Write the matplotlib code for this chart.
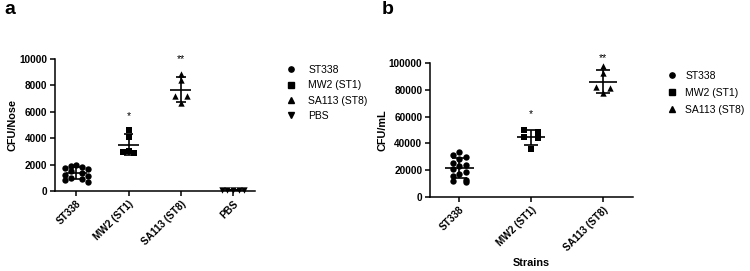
import matplotlib
matplotlib.use('Agg')
import matplotlib.pyplot as plt
from matplotlib.lines import Line2D
import numpy as np

plt.rcParams['font.family'] = ['Liberation Sans', 'DejaVu Sans']

# panel a: CFU per nose
strains_a = ["ST338", "MW2 (ST1)", "SA113 (ST8)", "PBS"]
st338_a = [2000, 1900, 1850, 1750, 1650, 1500, 1350, 1200, 1100, 1000, 900, 800, 700]
mw2_a = [4600, 4100, 3000, 2950, 2900]
sa113_a = [8900, 8400, 7200, 7200, 6700]
pbs_a = [100, 90, 110, 80, 100]
stars_a = ["", "*", "**", ""]
star_y_a = [0, 5700, 10000, 0]

# panel b: CFU per mL
strains_b = ["ST338", "MW2 (ST1)", "SA113 (ST8)"]
st338_b = [33500, 31000, 30000, 28000, 25500, 24000, 23000, 21000, 19000,
           17500, 16000, 13000, 12000, 11000]
mw2_b = [50000, 48700, 44500, 43800, 35800]
sa113_b = [97800, 92300, 82300, 81100, 77400]
stars_b = ["", "*", "**"]
star_y_b = [0, 62000, 104000]

markers = ['o', 's', '^', 'v']

fig = plt.figure(figsize=(7.5, 2.71), dpi=100)
ax_a = fig.add_axes([0.0733, 0.2952, 0.2667, 0.487])
ax_b = fig.add_axes([0.5733, 0.273, 0.2707, 0.4945])


def swarm_offsets(ax, xc, vals, diam_px):
    """rows of points that would overlap get spread out side by side"""
    x0 = ax.transData.transform((xc, 0))[0]
    py = [ax.transData.transform((xc, v))[1] for v in vals]
    order = list(np.argsort(vals)[::-1])
    rows = []
    for i in order:
        if rows and abs(py[rows[-1][0]] - py[i]) < diam_px * 0.9:
            rows[-1].append(i)
        else:
            rows.append([i])
    xs = [float(xc)] * len(vals)
    step = diam_px * 0.95
    for row in rows:
        n = len(row)
        if n % 2:
            offs = [0] + [s * k for k in range(1, n // 2 + 1) for s in (-1, 1)]
        else:
            offs = [s * k for k in range(1, n // 2 + 1) for s in (-1, 1)]
        for i, o in zip(row, offs):
            xs[i] = ax.transData.inverted().transform((x0 + o * step, py[i]))[0]
    return xs


def draw_panel(ax, groups, names, ymax, yticks, mean_w, cap_w, stars, star_y, diam):
    ax.set_xlim(-0.41, len(groups) - 1 + 0.42)
    ax.set_ylim(0, ymax)
    for i, vals in enumerate(groups):
        xs = swarm_offsets(ax, i, vals, diam)
        ax.scatter(xs, vals, marker=markers[i], s=21, color='black',
                   linewidths=0, clip_on=False, zorder=3)
        m = np.mean(vals)
        sd = np.std(vals, ddof=1)
        ax.hlines(m, i - mean_w, i + mean_w, color='black', lw=1.2, zorder=4)
        ax.hlines([m - sd, m + sd], i - cap_w, i + cap_w, color='black', lw=1.2, zorder=4)
        ax.vlines(i, m - sd, m + sd, color='black', lw=1.2, zorder=4)
        if stars[i]:
            ax.text(i, star_y[i], stars[i], ha='center', va='center', fontsize=7.5)
    ax.set_yticks(yticks)
    ax.set_yticklabels([str(t) for t in yticks], fontsize=7.2, fontweight='bold')
    ax.set_xticks(range(len(groups)))
    ax.set_xticklabels(names, rotation=45, ha='right', rotation_mode='anchor',
                       fontsize=7.2, fontweight='bold')
    for s in ['top', 'right']:
        ax.spines[s].set_visible(False)
    for s in ['left', 'bottom']:
        ax.spines[s].set_linewidth(1.1)
    ax.tick_params(width=1.1, length=3.5, pad=2)


draw_panel(ax_a, [st338_a, mw2_a, sa113_a, pbs_a], strains_a, 10000,
           [0, 2000, 4000, 6000, 8000, 10000], 0.2, 0.09, stars_a, star_y_a, 6.0)
ax_a.set_ylabel("CFU/Nose", fontsize=7.8, fontweight='bold', labelpad=1)

draw_panel(ax_b, [st338_b, mw2_b, sa113_b], strains_b, 100000,
           [0, 20000, 40000, 60000, 80000, 100000], 0.2, 0.1, stars_b, star_y_b, 7.0)
ax_b.set_ylabel("CFU/mL", fontsize=7.8, fontweight='bold', labelpad=1)
ax_b.set_xlabel("Strains", fontsize=7.8, fontweight='bold')
ax_b.xaxis.set_label_coords(0.5, -0.455)

fig.text(0.006, 0.995, "a", fontsize=14, fontweight='bold', va='top')
fig.text(0.509, 0.995, "b", fontsize=14, fontweight='bold', va='top')

handles_a = [Line2D([], [], marker=markers[i], ls='none', color='black', markersize=3.8)
             for i in range(4)]
fig.legend(handles_a, strains_a, loc='upper left', bbox_to_anchor=(0.377, 0.775),
           frameon=False, fontsize=7.5, handlelength=0.8, handletextpad=1.25,
           labelspacing=0.5, borderaxespad=0)
handles_b = [Line2D([], [], marker=markers[i], ls='none', color='black', markersize=3.8)
             for i in range(3)]
fig.legend(handles_b, strains_b, loc='upper left', bbox_to_anchor=(0.885, 0.755),
           frameon=False, fontsize=7.5, handlelength=0.8, handletextpad=0.85,
           labelspacing=0.68, borderaxespad=0)

fig.savefig("out.png", dpi=100)
